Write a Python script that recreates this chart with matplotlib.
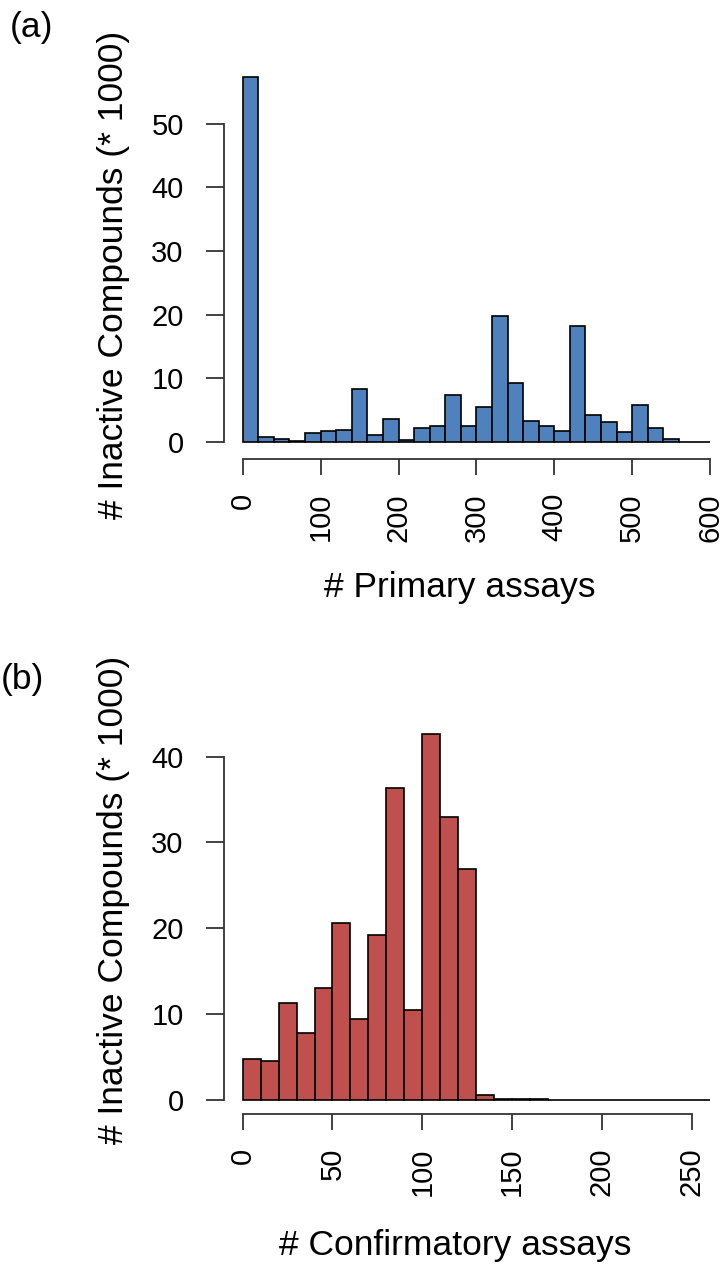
import matplotlib.pyplot as plt
import numpy as np

# panel (a): primary assays, bins of 20
primary_edges = np.arange(0, 620, 20)
primary_counts = [57.3, 0.8, 0.5, 0.15, 1.4, 1.8, 1.9, 8.3, 1.2, 3.6,
                  0.3, 2.3, 2.5, 7.4, 2.6, 5.5, 19.8, 9.3, 3.3, 2.5,
                  1.8, 18.2, 4.2, 3.1, 1.6, 5.9, 2.3, 0.5, 0.0, 0.0]
primary_xticks = [0, 100, 200, 300, 400, 500, 600]
primary_yticks = [0, 10, 20, 30, 40, 50]

# panel (b): confirmatory assays, bins of 10
confirm_edges = np.arange(0, 270, 10)
confirm_counts = [4.7, 4.5, 11.3, 7.8, 13.0, 20.6, 9.4, 19.2, 36.3, 10.4,
                  42.6, 32.9, 26.9, 0.5, 0.02, 0.1, 0.05, 0.0, 0.0, 0.0,
                  0.0, 0.0, 0.0, 0.0, 0.0, 0.0]
confirm_xticks = [0, 50, 100, 150, 200, 250]
confirm_yticks = [0, 10, 20, 30, 40]

plt.rcParams['font.family'] = ['Liberation Sans', 'DejaVu Sans']

W, H = 725, 1264
fig = plt.figure(figsize=(W / 100, H / 100), dpi=100, facecolor='white')


def px_axes(left, right, bottom, top):
    return fig.add_axes([left / W, 1 - bottom / H, (right - left) / W, (bottom - top) / H])


def style(ax, xticks, yticks):
    for s in ['top', 'right']:
        ax.spines[s].set_visible(False)
    ax.spines['left'].set_bounds(yticks[0], yticks[-1])
    ax.spines['bottom'].set_bounds(xticks[0], xticks[-1])
    for s in ['left', 'bottom']:
        ax.spines[s].set_color('#333333')
        ax.spines[s].set_linewidth(1.3)
    ax.set_xticks(xticks)
    ax.set_yticks(yticks)
    ax.set_xticklabels([str(t) for t in xticks], rotation=90)
    ax.tick_params(axis='both', direction='out', colors='#333333', labelcolor='black',
                   labelsize=21, width=1.3)
    ax.tick_params(axis='x', length=11.5, pad=13)
    ax.tick_params(axis='y', length=13, pad=16)


# (a)
ax1 = px_axes(224, 725, 459, 65)
ax1.bar(primary_edges[:-1], primary_counts, width=20, align='edge',
        color='#4F81BD', edgecolor='black', linewidth=1.2)
ax1.set_xlim(-24.0, 619.1)
ax1.set_ylim(-2.64, 59.2)
style(ax1, primary_xticks, primary_yticks)

# (b)
ax2 = px_axes(224, 725, 1113.5, 720)
ax2.bar(confirm_edges[:-1], confirm_counts, width=10, align='edge',
        color='#C0504D', edgecolor='black', linewidth=1.2)
ax2.set_xlim(-10.4, 268.5)
ax2.set_ylim(-1.63, 44.26)
style(ax2, confirm_xticks, confirm_yticks)


def ftext(x, y, s, **kw):
    fig.text(x / W, 1 - y / H, s, ha='center', va='center', **kw)


ftext(114, 275, '# Inactive Compounds (* 1000)', rotation=90, fontsize=25.5)
ftext(460, 588, '# Primary assays', fontsize=25.5)
ftext(32, 28, '(a)', fontsize=25.5)

ftext(114, 900, '# Inactive Compounds (* 1000)', rotation=90, fontsize=25.5)
ftext(455, 1245, '# Confirmatory assays', fontsize=25.5)
ftext(22, 680, '(b)', fontsize=25.5)

fig.savefig('out.png', dpi=100, facecolor='white')
